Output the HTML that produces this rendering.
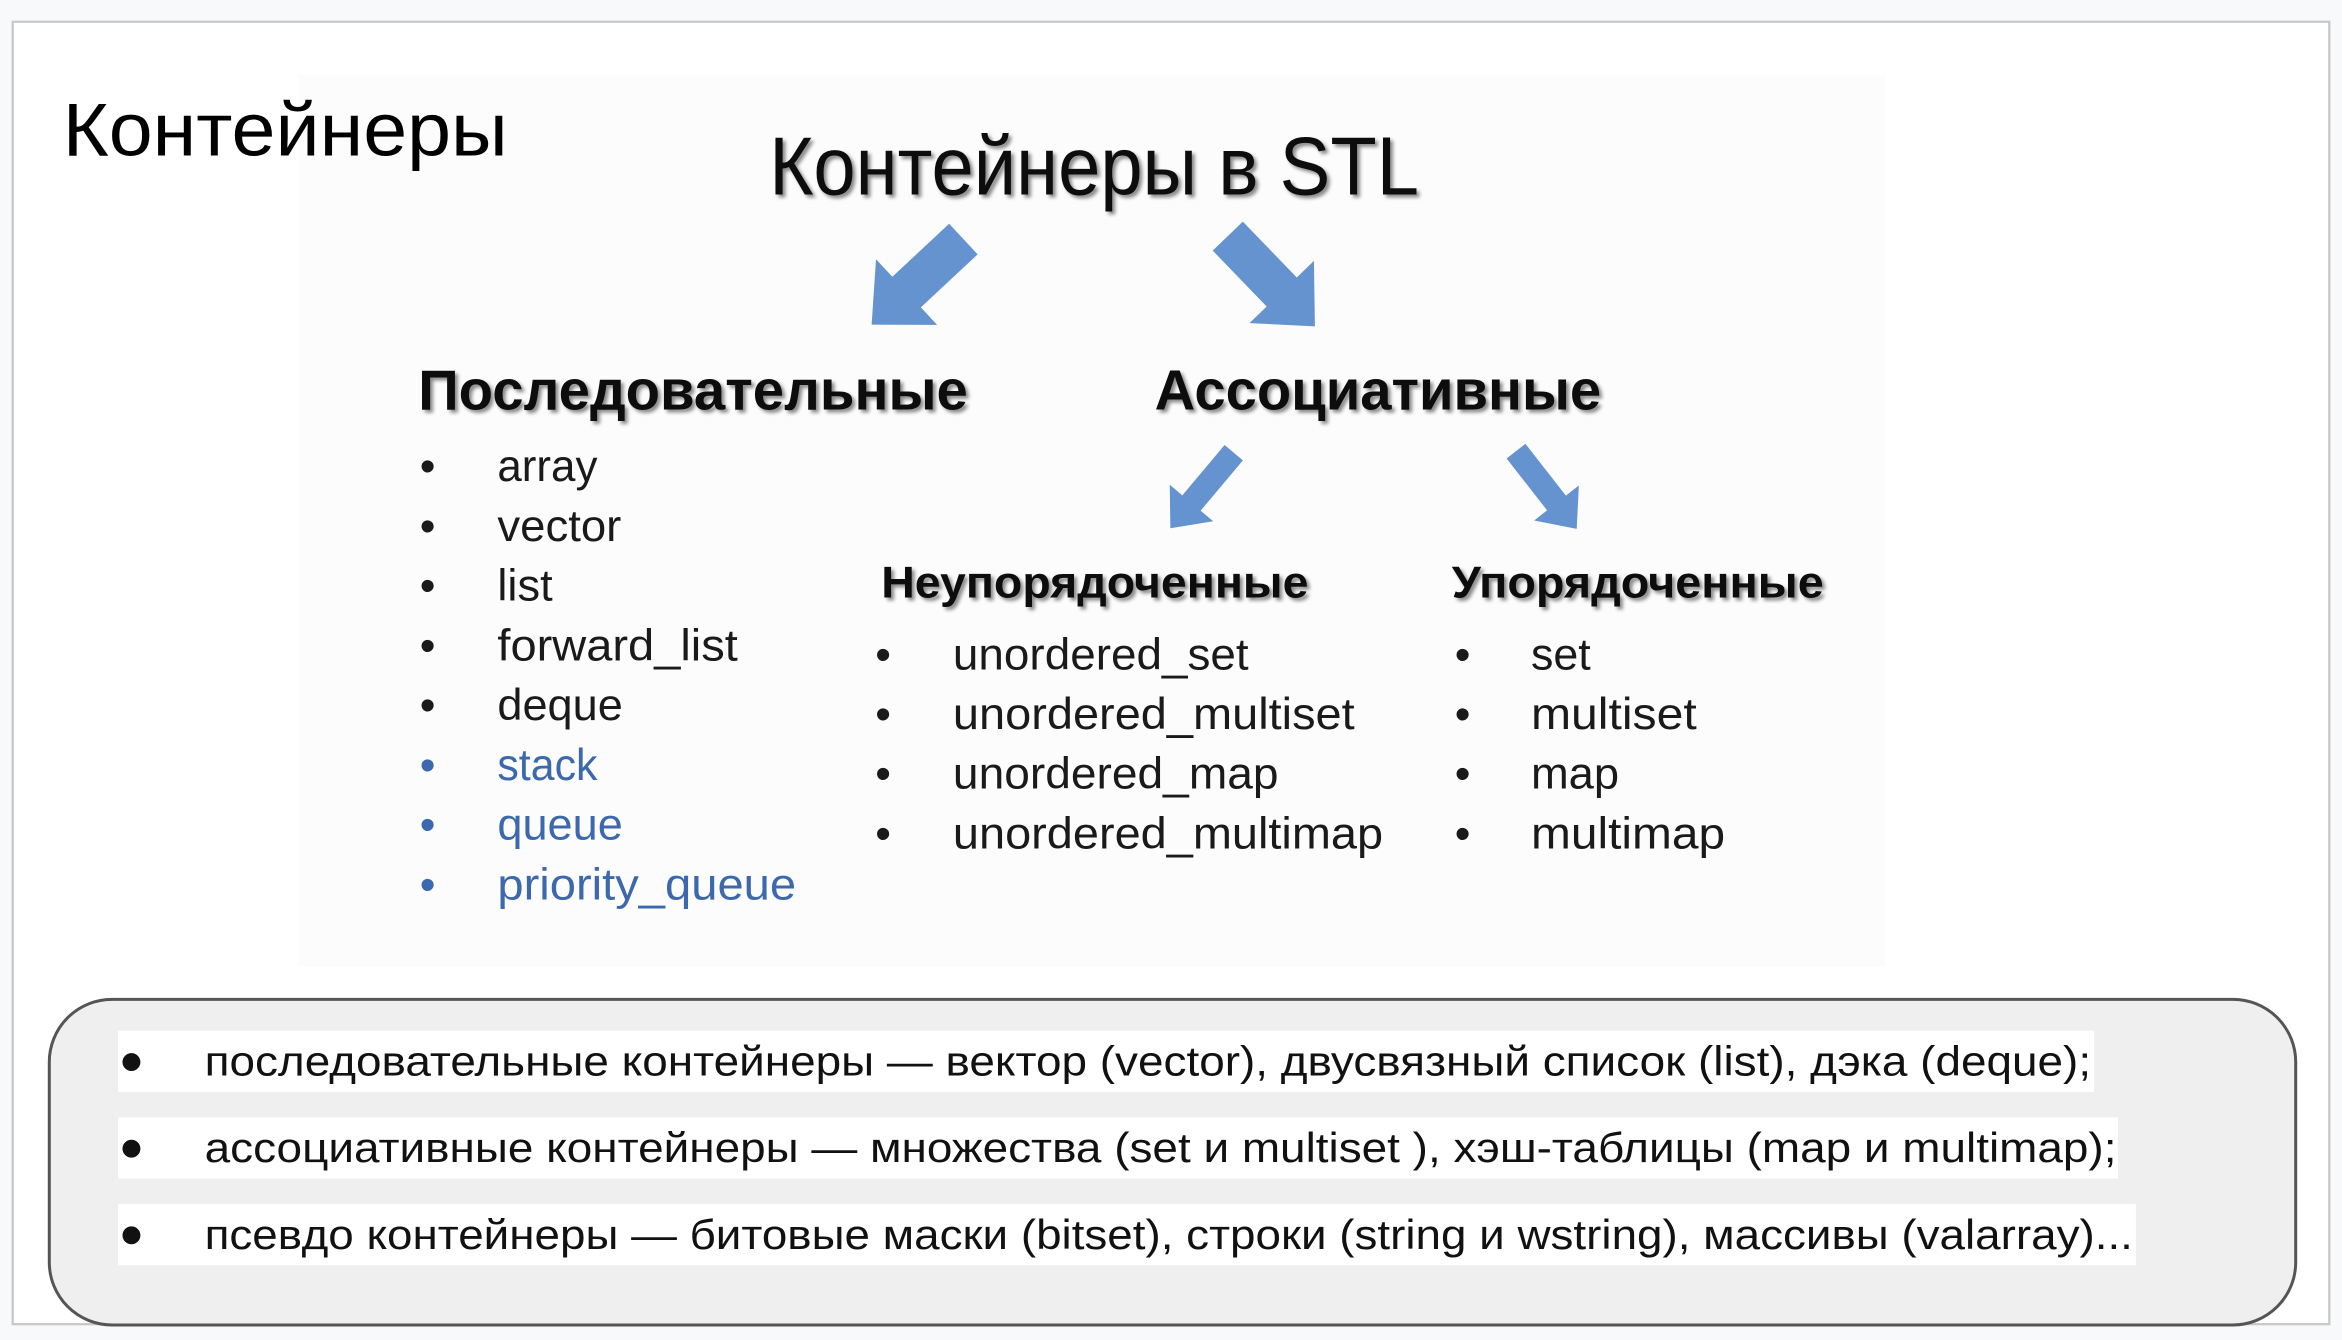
<!DOCTYPE html>
<html><head><meta charset="utf-8"><style>
html,body{margin:0;padding:0;background:#f8f9fa;}
svg{display:block;}
</style></head><body>
<svg width="2342" height="1340" viewBox="0 0 1568 897" xmlns="http://www.w3.org/2000/svg" font-family="Liberation Sans, DejaVu Sans, sans-serif">
<defs>
<filter id="sh" x="-5%" y="-20%" width="110%" height="140%"><feDropShadow dx="2" dy="2" stdDeviation="1.2" flood-color="#000" flood-opacity="0.45"/></filter>
</defs>
<rect x="0" y="0" width="1568" height="897" fill="#f8f9fa"/>
<rect x="8.5" y="14.5" width="1551" height="872" fill="#fff" stroke="#c8c8c8" stroke-width="1.5"/>
<rect x="200" y="50" width="1062" height="597" fill="#fcfcfc"/>
<text x="42" y="104" font-size="50" textLength="298" lengthAdjust="spacingAndGlyphs" fill="#000">Контейнеры</text>
<text x="515" y="130" font-size="55" textLength="435" lengthAdjust="spacingAndGlyphs" fill="#111" filter="url(#sh)">Контейнеры в STL</text>
<g fill="#6593cf">
<polygon transform="translate(645,160) rotate(137)" points="0,-14 52,-14 52,-30 84,0 52,30 52,14 0,14"/>
<polygon transform="translate(822,158) rotate(46)" points="0,-14 52,-14 52,-30 84,0 52,30 52,14 0,14"/>
<polygon transform="translate(826,303) rotate(130)" points="0,-8 44,-8 44,-19 66,0 44,19 44,8 0,8"/>
<polygon transform="translate(1015,302) rotate(52)" points="0,-8 44,-8 44,-19 66,0 44,19 44,8 0,8"/>
</g>
<g font-weight="bold" fill="#111" filter="url(#sh)">
<text x="280" y="274" font-size="38" textLength="368" lengthAdjust="spacingAndGlyphs">Последовательные</text>
<text x="773" y="274" font-size="38" textLength="299" lengthAdjust="spacingAndGlyphs">Ассоциативные</text>
<text x="590" y="400" font-size="30" textLength="286" lengthAdjust="spacingAndGlyphs">Неупорядоченные</text>
<text x="972" y="400" font-size="30" textLength="249" lengthAdjust="spacingAndGlyphs">Упорядоченные</text>
</g>
<g font-size="30" fill="#1a1a1a">
<text x="281" y="322">•</text><text x="333" y="322" textLength="67" lengthAdjust="spacingAndGlyphs">array</text>
<text x="281" y="362">•</text><text x="333" y="362" textLength="83" lengthAdjust="spacingAndGlyphs">vector</text>
<text x="281" y="402">•</text><text x="333" y="402" textLength="37" lengthAdjust="spacingAndGlyphs">list</text>
<text x="281" y="442">•</text><text x="333" y="442" textLength="161" lengthAdjust="spacingAndGlyphs">forward_list</text>
<text x="281" y="482">•</text><text x="333" y="482" textLength="84" lengthAdjust="spacingAndGlyphs">deque</text>
<g fill="#3c68ad">
<text x="281" y="522">•</text><text x="333" y="522" textLength="67" lengthAdjust="spacingAndGlyphs">stack</text>
<text x="281" y="562">•</text><text x="333" y="562" textLength="84" lengthAdjust="spacingAndGlyphs">queue</text>
<text x="281" y="602">•</text><text x="333" y="602" textLength="200" lengthAdjust="spacingAndGlyphs">priority_queue</text>
</g>
<text x="586" y="448">•</text><text x="638" y="448" textLength="198" lengthAdjust="spacingAndGlyphs">unordered_set</text>
<text x="586" y="488">•</text><text x="638" y="488" textLength="269" lengthAdjust="spacingAndGlyphs">unordered_multiset</text>
<text x="586" y="528">•</text><text x="638" y="528" textLength="218" lengthAdjust="spacingAndGlyphs">unordered_map</text>
<text x="586" y="568">•</text><text x="638" y="568" textLength="288" lengthAdjust="spacingAndGlyphs">unordered_multimap</text>
<text x="974" y="448">•</text><text x="1025" y="448" textLength="40" lengthAdjust="spacingAndGlyphs">set</text>
<text x="974" y="488">•</text><text x="1025" y="488" textLength="111" lengthAdjust="spacingAndGlyphs">multiset</text>
<text x="974" y="528">•</text><text x="1025" y="528" textLength="59" lengthAdjust="spacingAndGlyphs">map</text>
<text x="974" y="568">•</text><text x="1025" y="568" textLength="130" lengthAdjust="spacingAndGlyphs">multimap</text>
</g>
<rect x="33" y="669" width="1504" height="218" rx="42" ry="42" fill="#efefef" stroke="#555" stroke-width="2"/>
<rect x="79" y="690" width="1323" height="41" fill="#fff"/>
<rect x="79" y="748" width="1339" height="41" fill="#fff"/>
<rect x="79" y="806" width="1351" height="41" fill="#fff"/>
<g font-size="28" fill="#111">
<circle cx="88" cy="711" r="6"/><text x="137" y="720" textLength="1263" lengthAdjust="spacingAndGlyphs">последовательные контейнеры — вектор (vector), двусвязный список (list), дэка (deque);</text>
<circle cx="88" cy="769" r="6"/><text x="137" y="778" textLength="1280" lengthAdjust="spacingAndGlyphs">ассоциативные контейнеры — множества (set и multiset ), хэш-таблицы (map и multimap);</text>
<circle cx="88" cy="827" r="6"/><text x="137" y="836" textLength="1291" lengthAdjust="spacingAndGlyphs">псевдо контейнеры — битовые маски (bitset), строки (string и wstring), массивы (valarray)...</text>
</g>
</svg>
</body></html>
